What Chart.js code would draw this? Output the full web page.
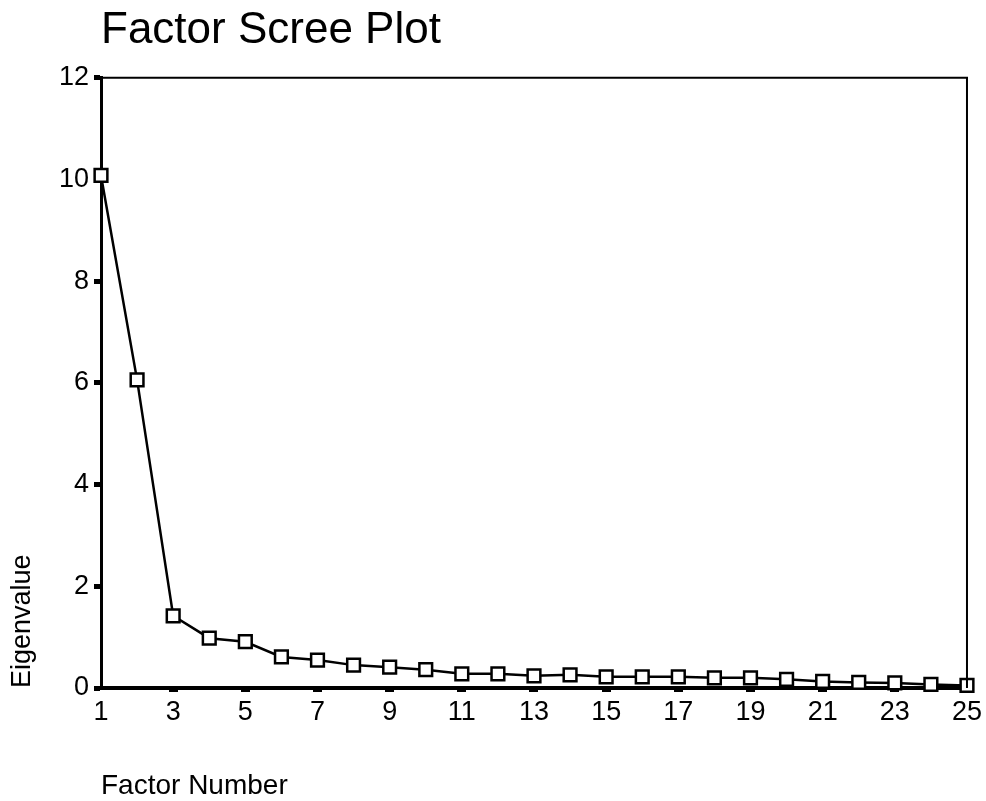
<!DOCTYPE html>
<html>
<head>
<meta charset="utf-8">
<script src="https://cdn.jsdelivr.net/npm/chart.js@4"></script>
<style>
  html, body { margin: 0; padding: 0; background: #fff; }
  #wrap { width: 986px; height: 801px; position: relative; }
</style>
</head>
<body>
<div id="wrap"><canvas id="c" width="986" height="801"></canvas></div>
<script>
const factorNumbers = [1,2,3,4,5,6,7,8,9,10,11,12,13,14,15,16,17,18,19,20,21,22,23,24,25];
const eigenvalues = [10.08, 6.06, 1.42, 0.98, 0.91, 0.61, 0.55, 0.45, 0.41, 0.36, 0.28, 0.28, 0.24, 0.26, 0.22, 0.22, 0.22, 0.20, 0.20, 0.17, 0.13, 0.11, 0.10, 0.07, 0.05];
const yTicks = [0, 2, 4, 6, 8, 10, 12];
const titleText = 'Factor Scree Plot';
const xTitle = 'Factor Number';
const yTitle = 'Eigenvalue';

const FONT = 'Arial, "Liberation Sans", sans-serif';

const framePlugin = {
  id: 'frame',
  afterDatasetsDraw(chart) {
    const a = chart.chartArea, ctx = chart.ctx;
    ctx.save();
    ctx.strokeStyle = '#000';
    ctx.lineWidth = 2;
    ctx.beginPath();
    ctx.moveTo(a.left, a.top);
    ctx.lineTo(a.right, a.top);
    ctx.lineTo(a.right, a.bottom);
    ctx.stroke();
    ctx.restore();
  }
};

new Chart(document.getElementById('c'), {
  type: 'line',
  data: {
    labels: factorNumbers,
    datasets: [{
      data: eigenvalues,
      borderColor: '#000',
      borderWidth: 2.5,
      tension: 0,
      pointStyle: 'rect',
      pointRadius: 9,
      pointBorderWidth: 2.5,
      pointBorderColor: '#000',
      pointBackgroundColor: '#fff',
      clip: false
    }]
  },
  options: {
    responsive: false,
    animation: false,
    devicePixelRatio: 1,
    layout: { padding: { left: 0, right: 18, top: 0, bottom: 0 } },
    plugins: {
      legend: { display: false },
      tooltip: { enabled: false },
      title: {
        display: true,
        text: titleText,
        align: 'start',
        fullSize: false,
        color: '#000',
        font: { family: FONT, size: 44, weight: 'normal', lineHeight: 1.2 },
        padding: { top: 4, bottom: 21 }
      }
    },
    scales: {
      x: {
        type: 'category',
        offset: false,
        afterFit(s) { s.height = 113; },
        border: { display: true, color: '#000', width: 4 },
        grid: {
          drawOnChartArea: false,
          drawTicks: true,
          tickLength: 4,
          tickWidth: 9,
          tickColor: (ctx) => (ctx.index % 2 === 0 && ctx.index > 0 && ctx.index < factorNumbers.length - 1) ? '#000' : 'rgba(0,0,0,0)'
        },
        ticks: {
          autoSkip: false,
          maxRotation: 0,
          color: '#000',
          padding: 4,
          font: { family: FONT, size: 27 },
          callback(v, i) { return i % 2 === 0 ? String(factorNumbers[i]) : ''; }
        },
        title: {
          display: true,
          text: xTitle,
          align: 'start',
          color: '#000',
          font: { family: FONT, size: 28, lineHeight: 1.2 },
          padding: { top: 0, bottom: -2 }
        }
      },
      y: {
        min: 0,
        max: 12,
        afterFit(s) { s.width = 101; },
        afterBuildTicks(s) { s.ticks = yTicks.map(v => ({ value: v })); },
        border: { display: true, color: '#000', width: 3 },
        grid: {
          drawOnChartArea: false,
          drawTicks: true,
          tickLength: 7,
          tickWidth: 5,
          tickColor: '#000'
        },
        ticks: {
          color: '#000',
          padding: 5,
          font: { family: FONT, size: 27 }
        },
        title: {
          display: true,
          text: yTitle,
          align: 'start',
          color: '#000',
          font: { family: FONT, size: 27, lineHeight: 1.2 },
          padding: { top: 6, bottom: 0 }
        }
      }
    }
  },
  plugins: [framePlugin]
});
</script>
</body>
</html>
